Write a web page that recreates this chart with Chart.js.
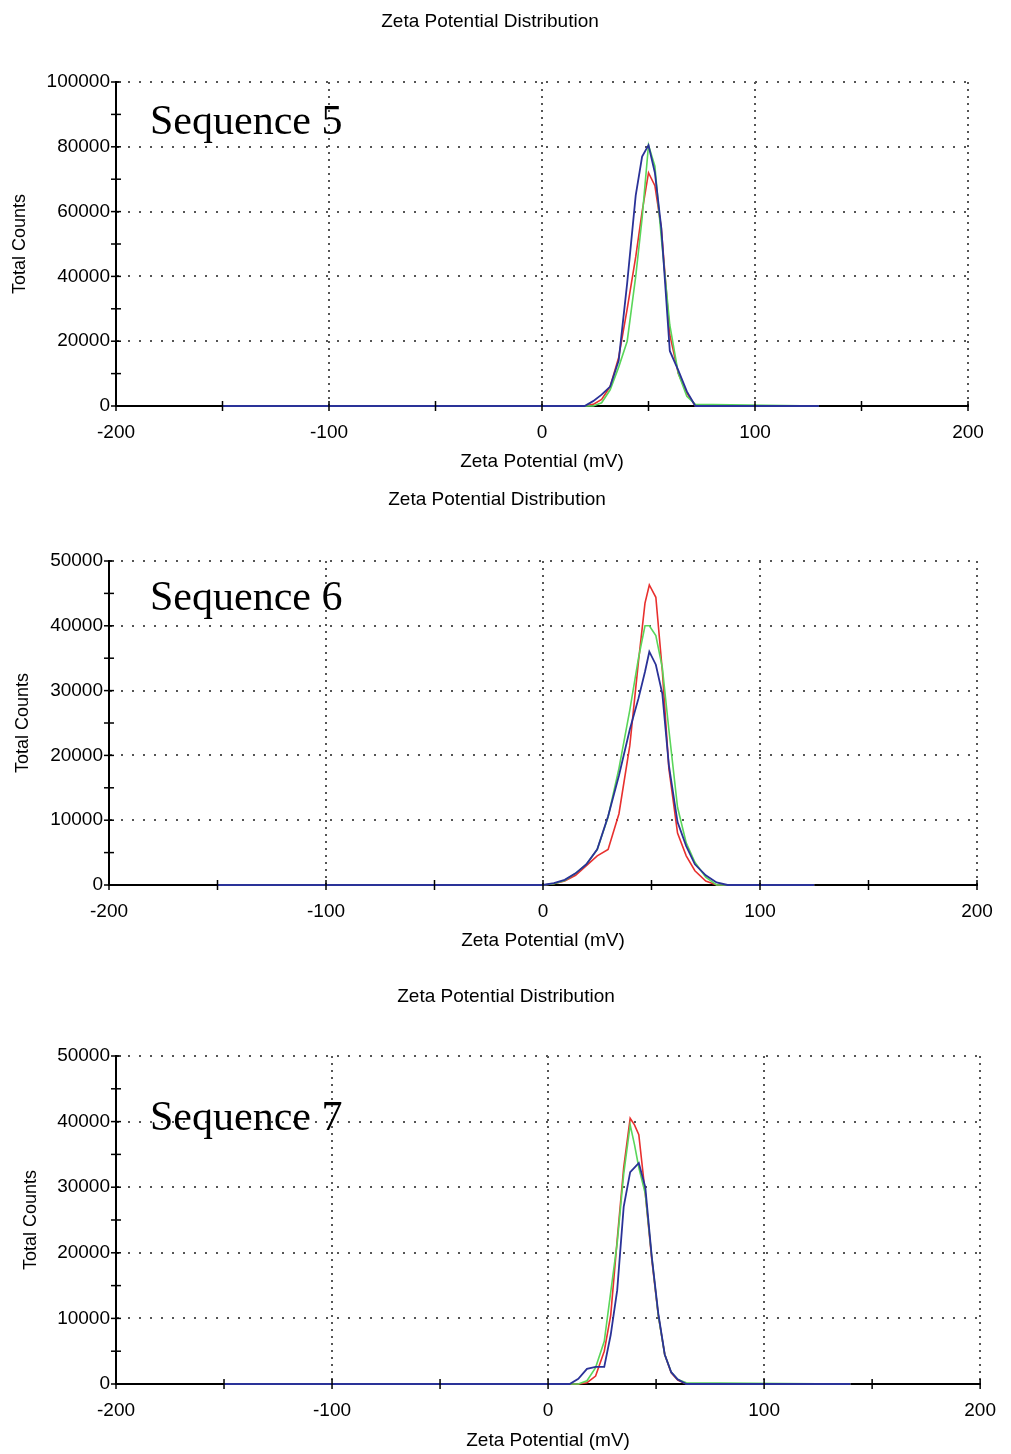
<!DOCTYPE html>
<html>
<head>
<meta charset="utf-8">
<script src="https://cdn.jsdelivr.net/npm/chart.js@4.4.0/dist/chart.umd.min.js"></script>
<style>
body { margin: 0; background: #fff; width: 1011px; height: 1454px; position: relative; overflow: hidden; }
canvas { position: absolute; left: 0; }
</style>
</head>
<body>
<canvas id="c5" width="1011" height="478" style="top:0px"></canvas>
<canvas id="c6" width="1011" height="490" style="top:478px"></canvas>
<canvas id="c7" width="1011" height="486" style="top:968px"></canvas>
<script>
// data (zeta potential mV, total counts)
var titleText = "Zeta Potential Distribution";
var xTitle = "Zeta Potential (mV)";
var yTitle = "Total Counts";

var zeta5  = [-150, 20, 24, 28, 32, 36, 40, 44, 47, 50, 53, 56, 60, 64, 68, 72, 130];
var red5   = [0, 0, 500, 2000, 6000, 15000, 30000, 46000, 60000, 72000, 68000, 55000, 22000, 10000, 4000, 0, 0];
var green5 = [0, 0, 0, 1000, 5000, 12000, 20000, 40000, 58000, 80500, 74000, 52000, 25000, 10000, 3000, 500, 0];
var blue5  = [0, 0, 1500, 3500, 6000, 14000, 38000, 65000, 77000, 80500, 72000, 55000, 17000, 11000, 4500, 0, 0];

var zeta6  = [-150, 0, 5, 10, 15, 20, 25, 30, 35, 40, 44, 47, 49, 52, 55, 58, 62, 66, 70, 75, 80, 85, 125];
var red6   = [0, 0, 200, 600, 1500, 3000, 4500, 5500, 11000, 21500, 34500, 43500, 46300, 44400, 33000, 18000, 8000, 4500, 2200, 600, 0, 0, 0];
var green6 = [0, 0, 200, 700, 1800, 3200, 5500, 10500, 18000, 27000, 35000, 40000, 40000, 38500, 33500, 24000, 12000, 6500, 3500, 1200, 0, 0, 0];
var blue6  = [0, 0, 300, 800, 1800, 3200, 5500, 10600, 16900, 24000, 28800, 32900, 36000, 34000, 29500, 18500, 9700, 6000, 3200, 1500, 400, 0, 0];

var zeta7  = [-150, 10, 14, 18, 22, 26, 29, 32, 35, 38, 40, 42, 45, 48, 51, 54, 57, 60, 64, 140];
var red7   = [0, 0, 0, 200, 1200, 5000, 10500, 22000, 33000, 40500, 39500, 38000, 29000, 19000, 10500, 4500, 1700, 600, 0, 0];
var green7 = [0, 0, 0, 500, 2500, 6500, 14000, 21500, 32000, 39500, 36500, 33000, 29000, 19400, 10500, 4500, 1800, 700, 200, 0];
var blue7  = [0, 0, 800, 2300, 2600, 2600, 7500, 14300, 27000, 32300, 33000, 33700, 30000, 19400, 10800, 4500, 1800, 700, 0, 0];

var xTicks = [-200, -100, 0, 100, 200];

function pts(xs, ys) {
  return xs.map(function (x, i) { return { x: x, y: ys[i] }; });
}

// cross ticks, title and sequence label
var zetaText = {
  id: 'zetaText',
  afterDraw: function (chart, args, o) {
    var ctx = chart.ctx, a = chart.chartArea;
    var xs = chart.scales.x, ys = chart.scales.y;
    ctx.save();
    ctx.strokeStyle = '#000';
    ctx.lineWidth = 1.5;
    xs.ticks.forEach(function (t) {
      var px = xs.getPixelForValue(t.value);
      ctx.beginPath(); ctx.moveTo(px, a.bottom - 5); ctx.lineTo(px, a.bottom + 5); ctx.stroke();
    });
    ys.ticks.forEach(function (t) {
      var py = ys.getPixelForValue(t.value);
      ctx.beginPath(); ctx.moveTo(a.left - 5, py); ctx.lineTo(a.left + 5, py); ctx.stroke();
    });
    ctx.fillStyle = '#000';
    ctx.font = '19px "Liberation Sans", Arial, sans-serif';
    ctx.textAlign = 'center';
    ctx.textBaseline = 'middle';
    ctx.fillText(titleText, o.titleX, o.titleY);
    ctx.font = '42px "Liberation Serif", "Times New Roman", serif';
    ctx.textAlign = 'left';
    ctx.textBaseline = 'alphabetic';
    ctx.fillText(o.seq, a.left + o.seqDX, a.top + o.seqDY);
    ctx.restore();
  }
};

function makeChart(id, zeta, red, green, blue, c) {
  new Chart(document.getElementById(id), {
    type: 'line',
    data: {
      // first dataset is drawn on top
      datasets: [
        { data: pts(zeta, blue), borderColor: '#2a3298', borderWidth: 1.8, pointRadius: 0, clip: false },
        { data: pts(zeta, green), borderColor: '#5ad65a', borderWidth: 1.6, pointRadius: 0, clip: false },
        { data: pts(zeta, red), borderColor: '#e8302e', borderWidth: 1.6, pointRadius: 0, clip: false }
      ]
    },
    options: {
      responsive: false,
      animation: false,
      layout: { padding: { left: 0, right: 1011 - c.right, top: c.top, bottom: c.padB } },
      plugins: {
        legend: { display: false },
        tooltip: { enabled: false },
        zetaText: { titleX: c.titleX, titleY: c.titleY, seq: c.seq, seqDX: c.seqDX, seqDY: c.seqDY }
      },
      scales: {
        x: {
          type: 'linear', min: -200, max: 200,
          afterFit: function (s) { s.height = 70; },
          ticks: {
            stepSize: 50, padding: 15, color: '#000', maxRotation: 0, autoSkip: false,
            font: { family: '"Liberation Sans", Arial', size: 19 },
            callback: function (v) { return xTicks.indexOf(v) >= 0 ? v : ''; }
          },
          grid: {
            drawTicks: false, lineWidth: 2,
            color: function (ctx) { return ctx.tick && ctx.tick.value % 100 === 0 && ctx.tick.value > -200 ? '#555' : 'rgba(0,0,0,0)'; }
          },
          border: { display: true, color: '#000', width: 2, dash: [2, 5] },
          title: {
            display: true, text: xTitle, color: '#000',
            font: { family: '"Liberation Sans", Arial', size: 19 },
            padding: { top: 0, bottom: c.xtPad }
          }
        },
        y: {
          min: 0, max: c.yMax,
          afterFit: function (s) { s.width = c.left; },
          ticks: {
            stepSize: c.yStep, padding: 6, color: '#000', autoSkip: false,
            font: { family: '"Liberation Sans", Arial', size: 19 },
            callback: function (v) { return v % c.yLabelStep === 0 ? v : ''; }
          },
          grid: {
            drawTicks: false, lineWidth: 2,
            color: function (ctx) { return ctx.tick && ctx.tick.value % c.yLabelStep === 0 && ctx.tick.value > 0 ? '#555' : 'rgba(0,0,0,0)'; }
          },
          border: { display: true, color: '#000', width: 2, dash: [2, 9] },
          title: {
            display: true, text: yTitle, color: '#000',
            font: { family: '"Liberation Sans", Arial', size: 18 },
            padding: { top: c.ytPad, bottom: 0 }
          }
        }
      }
    },
    plugins: [zetaText]
  });
}

makeChart('c5', zeta5, red5, green5, blue5, {
  left: 116, right: 968, top: 82, padB: 2, xtPad: 3, ytPad: 9,
  yMax: 100000, yStep: 10000, yLabelStep: 20000,
  titleX: 490, titleY: 22, seq: 'Sequence 5', seqDX: 34, seqDY: 52
});
makeChart('c6', zeta6, red6, green6, blue6, {
  left: 109, right: 977, top: 83, padB: 13, xtPad: 3, ytPad: 12,
  yMax: 50000, yStep: 5000, yLabelStep: 10000,
  titleX: 497, titleY: 22, seq: 'Sequence 6', seqDX: 41, seqDY: 49
});
makeChart('c7', zeta7, red7, green7, blue7, {
  left: 116, right: 988, top: 88, padB: 0, xtPad: 2, ytPad: 20,
  yMax: 50000, yStep: 5000, yLabelStep: 10000,
  titleX: 506, titleY: 29, seq: 'Sequence 7', seqDX: 34, seqDY: 74
});
</script>
</body>
</html>
